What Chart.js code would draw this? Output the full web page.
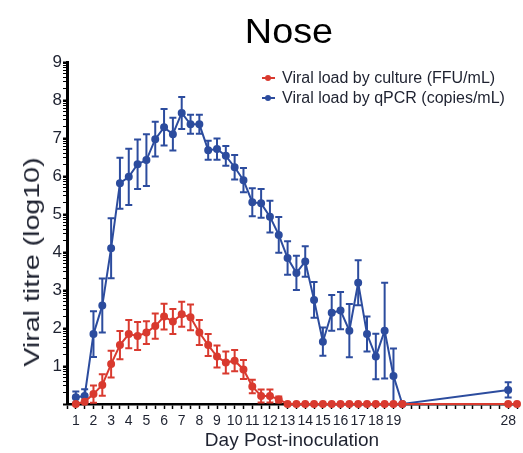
<!DOCTYPE html>
<html>
<head>
<meta charset="utf-8">
<script src="https://cdn.jsdelivr.net/npm/chart.js@4/dist/chart.umd.min.js"></script>
<style>
  body { margin: 0; background: #fff; }
  #wrap { position: relative; width: 523px; height: 453px; font-family: Arial, "Liberation Sans", sans-serif; color: #1e2230; }
  #title { position: absolute; left: 289px; top: 31px; transform: translate(-50%, -50%) scaleX(1.08); font-size: 35px; white-space: nowrap; color: #000; }
  #ytitle { position: absolute; left: 32px; top: 262px; transform: translate(-50%, -50%) rotate(-90deg) scaleX(1.3); font-size: 22px; white-space: nowrap; }
  .leg { position: absolute; left: 262px; height: 20px; line-height: 20px; font-size: 16px; white-space: nowrap; }
  .sym { display: inline-block; position: relative; width: 13px; height: 20px; vertical-align: top; margin-right: 7px; }
  .sym i { position: absolute; left: 0; top: 9px; width: 13px; height: 2px; }
  .sym b { position: absolute; left: 3px; top: 7px; width: 6px; height: 6px; border-radius: 50%; }
</style>
</head>
<body>
<div id="wrap">
  <canvas id="chart" width="523" height="453"></canvas>
  <div id="title">Nose</div>
  <div id="ytitle">Viral titre (log10)</div>
  <div id="legend"></div>
</div>
<script>
// sample position on the x axis (half-day steps, axis is broken between day 19.5 and 28)
const cultureX = [0, 1, 2, 3, 4, 5, 6, 7, 8, 9, 10, 11, 12, 13, 14, 15, 16, 17, 18, 19,
  20, 21, 22, 23, 24, 25, 26, 27, 28, 29, 30, 31, 32, 33, 34, 35, 36, 37, 49, 50];
const cultureValues = [0, 0.06, 0.26, 0.5, 1.05, 1.55, 1.84, 1.79, 1.88, 2.05, 2.3, 2.17, 2.36, 2.28,
  1.88, 1.55, 1.25, 1.09, 1.14, 0.91, 0.46, 0.21, 0.21, 0.12, 0, 0, 0, 0, 0, 0, 0, 0, 0, 0, 0, 0, 0, 0, 0, 0];
const cultureErrors = [0, 0.03, 0.23, 0.28, 0.35, 0.37, 0.37, 0.37, 0.3, 0.33, 0.34, 0.33, 0.33, 0.34,
  0.33, 0.29, 0.29, 0.29, 0.28, 0.25, 0.18, 0.17, 0.17, 0.08, 0, 0, 0, 0, 0, 0, 0, 0, 0, 0, 0, 0, 0, 0, 0, 0];

const qpcrX = [0, 1, 2, 3, 4, 5, 6, 7, 8, 9, 10, 11, 12, 13, 14, 15, 16, 17, 18, 19,
  20, 21, 22, 23, 24, 25, 26, 27, 28, 29, 30, 31, 32, 33, 34, 35, 36, 37, 49];
const qpcrValues = [0.18, 0.21, 1.84, 2.59, 4.1, 5.81, 5.98, 6.31, 6.42, 6.97, 7.28, 7.1, 7.66, 7.36,
  7.36, 6.68, 6.71, 6.53, 6.23, 5.89, 5.31, 5.28, 4.93, 4.45, 3.84, 3.45, 3.75, 2.74, 1.64, 2.4,
  2.46, 1.93, 3.19, 1.84, 1.25, 1.93, 0.74, 0, 0.37];
const qpcrErrors = [0.15, 0.18, 0.6, 0.71, 0.79, 0.67, 0.74, 0.65, 0.68, 0.46, 0.48, 0.43, 0.42, 0.25,
  0.25, 0.25, 0.28, 0.26, 0.32, 0.32, 0.37, 0.38, 0.42, 0.47, 0.44, 0.45, 0.4, 0.47, 0.37, 0.47,
  0.49, 0.7, 0.59, 0.46, 0.6, 1.26, 0.72, 0, 0.2];

// day labels under the x axis
const dayTickX = [0, 2, 4, 6, 8, 10, 12, 14, 16, 18, 20, 22, 24, 26, 28, 30, 32, 34, 36, 49];
const dayTickLabels = ['1', '2', '3', '4', '5', '6', '7', '8', '9', '10', '11', '12', '13', '14',
  '15', '16', '17', '18', '19', '28'];

const seriesNames = ['Viral load by culture (FFU/mL)', 'Viral load by qPCR (copies/mL)'];
const red = '#d93a2f';
const blue = '#2c4c9e';

// html legend
const legend = document.getElementById('legend');
[red, blue].forEach((c, i) => {
  const row = document.createElement('div');
  row.className = 'leg';
  row.style.top = (68 + i * 20) + 'px';
  row.innerHTML = `<span class="sym"><i style="background:${c}"></i><b style="background:${c}"></b></span>${seriesNames[i]}`;
  legend.appendChild(row);
});

const errorBars = {
  id: 'errorBars',
  afterDatasetDraw(chart, args) {
    const ds = chart.data.datasets[args.index];
    if (!ds.errors) return;
    const ctx = chart.ctx;
    const xs = chart.scales.x, ys = chart.scales.y;
    ctx.save();
    ctx.strokeStyle = ds.borderColor;
    ctx.lineWidth = 2;
    ds.data.forEach((p, i) => {
      const e = ds.errors[i];
      if (!e) return;
      const x = xs.getPixelForValue(p.x);
      const y1 = ys.getPixelForValue(p.y + e);
      const y2 = ys.getPixelForValue(Math.max(p.y - e, 0));
      ctx.beginPath();
      ctx.moveTo(x, y1); ctx.lineTo(x, y2);
      ctx.moveTo(x - 3.5, y1); ctx.lineTo(x + 3.5, y1);
      ctx.moveTo(x - 3.5, y2); ctx.lineTo(x + 3.5, y2);
      ctx.stroke();
    });
    ctx.restore();
  }
};

new Chart(document.getElementById('chart'), {
  type: 'line',
  data: {
    datasets: [
      {
        label: seriesNames[0],
        data: cultureX.map((x, i) => ({ x: x, y: cultureValues[i] })),
        errors: cultureErrors,
        borderColor: red, backgroundColor: red,
        borderWidth: 2, pointRadius: 3, clip: false
      },
      {
        label: seriesNames[1],
        data: qpcrX.map((x, i) => ({ x: x, y: qpcrValues[i] })),
        errors: qpcrErrors,
        borderColor: blue, backgroundColor: blue,
        borderWidth: 2, pointRadius: 3, clip: false
      }
    ]
  },
  options: {
    responsive: false,
    animation: false,
    devicePixelRatio: 1,
    layout: { padding: { top: 62, left: 0, right: 0, bottom: 0 } },
    plugins: {
      legend: { display: false },
      tooltip: { enabled: false }
    },
    scales: {
      x: {
        type: 'linear',
        min: -1, max: 50,
        afterBuildTicks: s => {
          const t = [];
          for (let i = -1; i <= 50; i++) t.push({ value: i });
          s.ticks = t;
        },
        afterFit: s => { s.height = 49; },
        border: { color: '#000', width: 2.5 },
        grid: { drawOnChartArea: false, tickLength: 5, tickColor: '#000', tickWidth: 1.5 },
        ticks: {
          autoSkip: false, maxRotation: 0, padding: 4,
          color: '#1e2230',
          font: { family: 'Arial, "Liberation Sans"', size: 14 },
          callback: v => {
            const k = dayTickX.indexOf(v);
            return k >= 0 ? dayTickLabels[k] : '';
          }
        },
        title: {
          display: true, text: 'Day Post-inoculation', color: '#1e2230',
          font: { family: 'Arial, "Liberation Sans"', size: 19 },
          padding: { top: 0, bottom: 1 }
        }
      },
      y: {
        min: 0, max: 9,
        afterBuildTicks: s => {
          const t = [];
          for (let n = 0; n < 9; n++) {
            t.push({ value: n });
            for (let k = 2; k <= 9; k++) t.push({ value: n + Math.log10(k) });
          }
          t.push({ value: 9 });
          s.ticks = t;
        },
        afterFit: s => { s.width = 67; },
        border: { color: '#000', width: 3 },
        grid: {
          drawOnChartArea: false, tickLength: 4, tickColor: '#000',
          tickWidth: c => Number.isInteger(c.tick.value) ? 2 : 1
        },
        ticks: {
          autoSkip: false, padding: 1, color: '#1e2230',
          font: { family: 'Arial, "Liberation Sans"', size: 17 },
          callback: v => (Number.isInteger(v) && v > 0) ? String(v) : ''
        }
      }
    }
  },
  plugins: [errorBars]
});
</script>
</body>
</html>
